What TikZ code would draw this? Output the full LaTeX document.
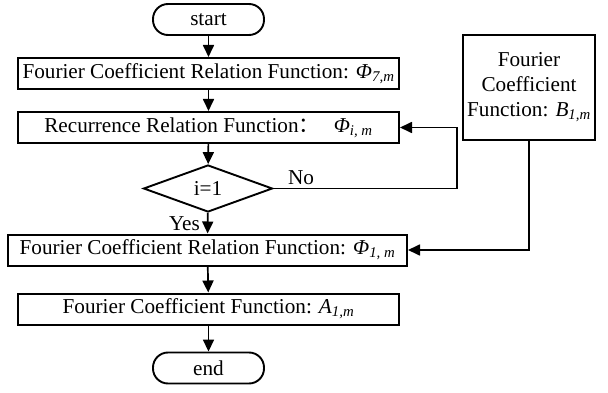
\documentclass[tikz,border=0pt]{standalone}
\usepackage{fontspec}
\setmainfont{Liberation Serif}
\newfontfamily\cjk{Noto Sans CJK SC}
\usetikzlibrary{arrows.meta,shapes.geometric}
\newcommand{\ssub}[1]{\textsubscript{\textit{#1}}}
\begin{document}
\begin{tikzpicture}[x=1pt,y=-1pt,font=\fontsize{21.2}{25}\selectfont,
  box/.style={draw,line width=2pt,inner sep=0pt,minimum height=31pt},
  term/.style={draw,line width=1.9pt,rounded corners=15pt,minimum width=111pt,minimum height=31pt,inner sep=0pt},
  dec/.style={diamond,draw,line width=1.9pt,minimum width=129pt,minimum height=47pt,inner sep=0pt},
  arr/.style={line width=1.7pt,-{Triangle[length=12pt,width=11pt]}},
  lbl/.style={inner sep=0pt}]
\useasboundingbox (0,0) rectangle (608,393);
\node[term] (start) at (208.5,19.5) {start};
\node[box,minimum width=381pt] (f7) at (208.5,73.5) {Fourier Coefficient Relation Function: \textit{Φ}\ssub{7,m}};
\node[box,minimum width=381pt] (rec) at (208.5,127.5) {Recurrence Relation Function{\cjk ：}\hspace{14pt}\textit{Φ}\ssub{i, m}};
\node[dec] (dc) at (208,188.5) {i=1};
\node[box,minimum width=399pt] (f1) at (207.5,250) {Fourier Coefficient Relation Function: \textit{Φ}\ssub{1, m}};
\node[box,minimum width=381pt] (a1) at (208.5,309) {Fourier Coefficient Function: \textit{A}\ssub{1,m}};
\node[term] (end) at (208.5,368) {end};
\node[box,minimum width=132pt,minimum height=105pt,align=center] (b1) at (529,87.5) {Fourier\\Coefficient\\Function: \textit{B}\ssub{1,m}};
\coordinate (loopc) at (457,188.5);
\coordinate (bc) at (529,250);
\draw[arr] (start) -- (f7);
\draw[arr] (f7) -- (rec);
\draw[arr] (rec) -- (dc);
\draw[arr] (dc) -- node[lbl,left=7pt,pos=0.5] (yes) {Yes} (f1);
\draw[arr] (dc.east) -- node[lbl,above=3pt,pos=0.15] (no) {No} (loopc) |- (rec.east);
\draw[arr] (b1.south) -- (bc) -- (f1.east);
\draw[arr] (f1) -- (a1);
\draw[arr] (a1) -- (end);
\end{tikzpicture}
\end{document}
